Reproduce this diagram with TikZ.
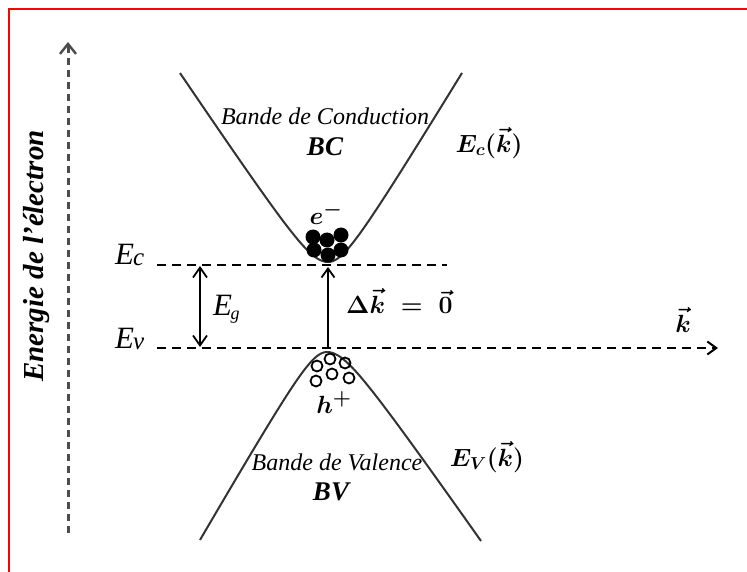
\documentclass[tikz,border=0pt]{standalone}
\usepackage{fontspec}
\setmainfont{Liberation Serif}
\usetikzlibrary{arrows.meta}
\begin{document}
\begin{tikzpicture}[x=1pt,y=-1pt,
  curve/.style={line width=2pt, draw=black!80},
  axis/.style={line width=3pt, draw=black!70, dash pattern=on 7pt off 5pt,
    -{Straight Barb[length=10pt,width=16pt,line width=2.4pt]}},
  level/.style={line width=2pt, draw=black, dash pattern=on 9pt off 6pt},
  harrow/.style={line width=2pt, draw=black, dash pattern=on 9pt off 6pt,
    -{Straight Barb[length=9pt,width=13pt,line width=2pt]}},
  gaparrow/.style={line width=1.8pt, {Straight Barb[length=10pt,width=14pt,line width=1.8pt]}-{Straight Barb[length=10pt,width=14pt,line width=1.8pt]}},
  karrow/.style={line width=1.8pt, -{Straight Barb[length=9pt,width=13pt,line width=1.8pt]}},
  lbl/.style={font=\fontsize{24}{26}\selectfont\itshape, inner sep=0pt},
  blbl/.style={font=\fontsize{27}{30}\selectfont\bfseries\itshape, inner sep=0pt},
  elbl/.style={font=\fontsize{31}{31}\selectfont\itshape, inner sep=0pt, anchor=base west},
  mlbl/.style={font=\fontsize{27}{30}\selectfont\boldmath, inner sep=0pt},
  elec/.style={circle, fill=black, inner sep=0pt, minimum size=15pt},
  hole/.style={circle, draw=black, line width=1.8pt, inner sep=0pt, minimum size=11pt},
]
\useasboundingbox (0,0) rectangle (747,572);
\fill[white] (0,0) rectangle (747,572);
% red frame
\draw[red, line width=2.5pt] (9,572) -- (9,9) -- (747,9);

% vertical axis
\coordinate (yb) at (68,533);
\coordinate (yt) at (68,42);
\draw[axis] (yb) -- (yt);
\node[blbl, font=\fontsize{29}{30}\selectfont\bfseries\itshape, rotate=90] (ylab) at (37,256) {Energie de l'électron};

% conduction band
\draw[curve] plot[domain=-148:0, samples=60, smooth] ({328+\x},{262-10*(sqrt(11.56+(0.1489*\x)^2)-3.4)})
  -- plot[domain=0:134, samples=60, smooth] ({328+\x},{262-10*(sqrt(11.56+(0.1645*\x)^2)-3.4)});
% valence band
\draw[curve] plot[domain=-127:0, samples=60, smooth] ({327+\x},{352+10*(sqrt(11.56+(0.1727*\x)^2)-3.4)})
  -- plot[domain=0:154, samples=60, smooth] ({327+\x},{352+10*(sqrt(11.56+(0.1431*\x)^2)-3.4)});

% levels
\coordinate (ecl) at (157,265);
\coordinate (ecr) at (447,265);
\coordinate (evl) at (157,348);
\coordinate (evr) at (718,348);
\draw[level] (ecl) -- (ecr);
\draw[harrow] (evl) -- (evr);

\node[elbl] (Ec) at (115,265) {E\kern-1pt\raisebox{-1pt}{\fontsize{25}{25}\selectfont c}};
\node[elbl] (Ev) at (115,348) {E\kern-1pt\raisebox{-1pt}{\fontsize{25}{25}\selectfont v}};

% gap arrow
\coordinate (gt) at (200,266);
\coordinate (gb) at (200,347);
\draw[gaparrow] (gb) -- (gt);
\node[elbl] (Eg) at (213,315) {E\kern-1.5pt\raisebox{-4pt}{\fontsize{18}{18}\selectfont g}};

% delta k arrow
\coordinate (kb) at (328,347);
\coordinate (kt) at (328,267);
\draw[karrow] (kb) -- (kt);
\node[mlbl, font=\fontsize{23}{26}\selectfont\boldmath, anchor=base west] (dk) at (346,313) {$\Delta\vec{k}\;=\;\vec{0}$};

% electrons
\node[elec] (e1) at (313,237) {};
\node[elec] (e2) at (327,240) {};
\node[elec] (e3) at (341,235) {};
\node[elec] (e4) at (314,250) {};
\node[elec] (e5) at (341,250) {};
\node[elec] (e6) at (328,255) {};
\node[mlbl, font=\fontsize{30}{30}\selectfont\boldmath] (em) at (326,213) {$e^-$};

% holes
\node[hole] (h1) at (317,366) {};
\node[hole] (h2) at (330,359) {};
\node[hole] (h3) at (345,363) {};
\node[hole] (h4) at (316,381) {};
\node[hole] (h5) at (332,374) {};
\node[hole] (h6) at (349,378) {};
\node[mlbl, font=\fontsize{30}{30}\selectfont\boldmath] (hp) at (334,403) {$h^+$};

% band labels
\node[lbl] (bc) at (325,116) {Bande de Conduction};
\node[blbl] (BC) at (325,147) {BC};
\node[lbl] (bv) at (337,462) {Bande de Valence};
\node[blbl] (BV) at (331,492) {BV};

\node[mlbl] (Eck) at (489,143) {$E_c(\vec{k})$};
\node[mlbl] (Evk) at (487,457) {$E_V(\vec{k})$};
\node[mlbl] (kk) at (683,320) {$\vec{k}$};
\end{tikzpicture}
\end{document}
